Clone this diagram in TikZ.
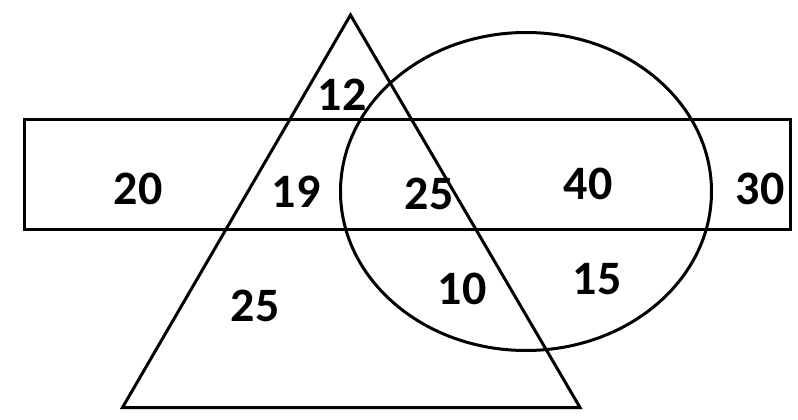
\documentclass[tikz,border=0pt]{standalone}
\usepackage{fontspec}
\setmainfont{Carlito}
\begin{document}
\begin{tikzpicture}[x=1pt,y=-1pt,line width=3pt,
    num/.style={font=\fontsize{48}{48}\selectfont\bfseries,inner sep=0pt}]
    \useasboundingbox (0,0) rectangle (798,420);
    \draw (24.5,119.5) rectangle (790.5,229);
    \draw (350.5,15) -- (580,407.5) -- (122.5,407.5) -- cycle;
    \draw (526,191.5) ellipse [x radius=185.5pt,y radius=159pt];
    \node[num] (only rect l) at (138,189) {20};
    \node[num] (tri top) at (342,95) {12};
    \node[num] (tri rect) at (296,192) {19};
    \node[num] (tri only) at (255,306) {25};
    \node[num] (all three) at (429,194) {25};
    \node[num] (ell rect) at (588,184) {40};
    \node[num] (only rect r) at (760,189) {30};
    \node[num] (tri ell) at (462,289) {10};
    \node[num] (ell only) at (597,279) {15};
\end{tikzpicture}
\end{document}
